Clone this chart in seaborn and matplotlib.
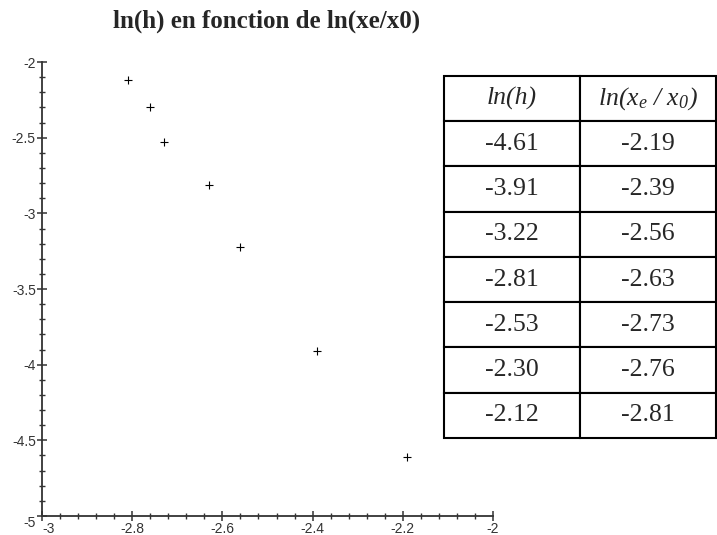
import numpy as np
import pandas as pd
import matplotlib
matplotlib.use("Agg")
import matplotlib.pyplot as plt
from matplotlib.ticker import MultipleLocator
import seaborn as sns

# valeurs du tableau
ln_h = [-4.61, -3.91, -3.22, -2.81, -2.53, -2.30, -2.12]
ln_xe_x0 = [-2.19, -2.39, -2.56, -2.63, -2.73, -2.76, -2.81]
col_labels = ["ln(h)", "ln(x$_e$ / x$_0$)"]

df = pd.DataFrame({"x": ln_xe_x0, "y": ln_h})

sns.set_style("white")
plt.rcParams["font.family"] = ["Liberation Sans", "DejaVu Sans"]
plt.rcParams["mathtext.fontset"] = "custom"
plt.rcParams["mathtext.it"] = "Liberation Serif:italic"
plt.rcParams["mathtext.rm"] = "Liberation Serif:italic"
plt.rcParams["mathtext.default"] = "it"

fig = plt.figure(figsize=(7.17, 5.35), dpi=100)
ax = fig.add_axes([0.0586, 0.0355, 0.629, 0.8485])

sns.scatterplot(data=df, x="x", y="y", marker="+", color="black", s=30,
                linewidth=0.8, ax=ax, legend=False)

ax.set_xlim(-3, -2)
ax.set_ylim(-5, -2)
ax.xaxis.set_major_locator(MultipleLocator(0.2))
ax.xaxis.set_minor_locator(MultipleLocator(0.04))
ax.yaxis.set_major_locator(MultipleLocator(0.5))
ax.yaxis.set_minor_locator(MultipleLocator(0.1))
ax.xaxis.set_major_formatter(lambda v, p: f"{v:g}")
ax.yaxis.set_major_formatter(lambda v, p: f"{v:g}")
ax.set_xlabel("")
ax.set_ylabel("")

for s in ["top", "right"]:
    ax.spines[s].set_visible(False)
for s in ["left", "bottom"]:
    ax.spines[s].set_color("#333333")
    ax.spines[s].set_linewidth(1.3)

ax.tick_params(which="both", bottom=True, left=True, top=False, right=False)
ax.tick_params(which="major", direction="inout", length=7, width=1.1,
               color="#333333", labelsize=10, labelcolor="#333333", pad=1)
ax.tick_params(which="minor", direction="inout", length=4, width=1.0,
               color="#333333")

# coin : -3 décalé à droite, -5 un peu plus bas
fig.canvas.draw()
for lab in ax.get_xticklabels():
    if lab.get_text() == "-3":
        lab.set_ha("left")
for lab in ax.get_yticklabels():
    if lab.get_text() == "-5":
        lab.set_va("top")

fig.text(267 / 717, 0.9477, "ln(h) en fonction de ln(xe/x0)",
         family="Liberation Serif", fontweight="bold", fontsize=18,
         ha="center", va="baseline")

# tableau à droite
tax = fig.add_axes([0.619, 0.1813, 0.38, 0.6767])
tax.axis("off")
cells = [[f"{a:.2f}", f"{b:.2f}"] for a, b in zip(ln_h, ln_xe_x0)]
tbl = tax.table(cellText=cells, colLabels=col_labels, cellLoc="center",
                bbox=[0, 0, 1, 1])
tbl.auto_set_font_size(False)
for (r, c), cell in tbl.get_celld().items():
    cell.set_linewidth(1.5)
    cell.set_edgecolor("black")
    t = cell.get_text()
    t.set_fontsize(18.5)
    t.set_family("Liberation Serif")
    if r == 0:
        t.set_fontstyle("italic")

fig.savefig("out.png", dpi=100)
